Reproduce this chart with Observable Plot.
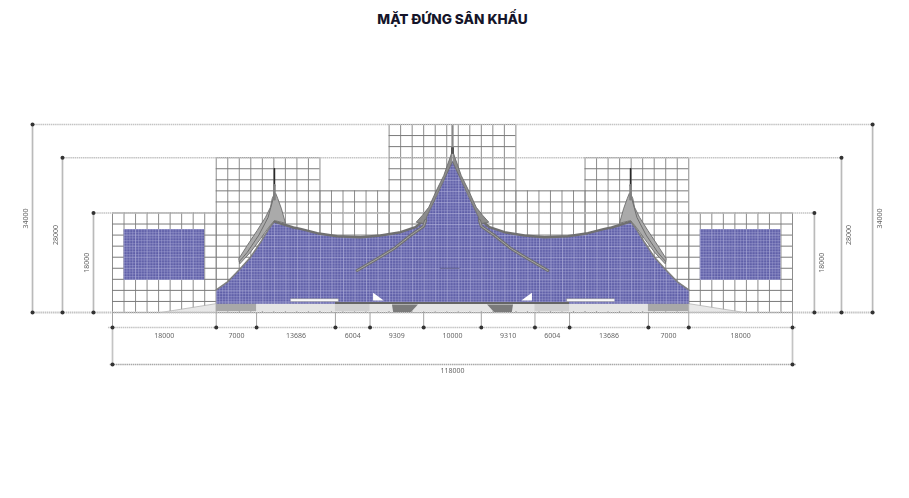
<!DOCTYPE html>
<html><head><meta charset="utf-8">
<script src="https://cdn.jsdelivr.net/npm/d3@7"></script>
<script src="https://cdn.jsdelivr.net/npm/@observablehq/plot@0.6"></script>
<style>
html,body{margin:0;padding:0;background:#fff;overflow:hidden}
#t{width:905px;height:38px;text-align:center;font:800 13.6px/38px Inter,sans-serif;color:#15152a}
#c svg{display:block;filter:blur(0.5px)}
</style></head><body>
<div id="t">MẶT ĐỨNG SÂN KHẤU</div>
<div id="c"></div>
<script>
const totalWidth = 118000;
// stepped envelope of the reference grid: from, to, top
const gridBlocks = [[0,18000,18000],[18000,36000,28000],[36000,48000,22000],[48000,70000,34000],[70000,82000,22000],[82000,100000,28000],[100000,118000,18000]];
const gridStep = 2000;
const segments = [18000,7000,13686,6004,9309,10000,9310,6004,13686,7000,18000];
const segmentLabels = ["18000","7000","13686","6004","9309","10000","9310","6004","13686","7000","18000"];
const overallLabel = "118000";
const heights = [34000,28000,18000];
const heightLabels = ["34000","28000","18000"];
const dimLeftX = [-13880,-8680,-3300];
const dimRightX = [131900,126500,121800];
const chainY = -2700, overallY = -9400;
const screens = [[2000,16000,5800,15000],[102000,116000,5800,15000]];
// left half of the main roof silhouette
const roofLeftX = [18000,18000,19900,22200,23950,25690,27120,28100,31400,32620,35520,38990,43030,46500,49970,52570,54300,54880,56340,57480,58350,59000];
const roofLeftY = [1600,4100,5480,7950,10000,12700,15130,16450,15370,15130,14340,13800,13610,13920,14520,15420,16940,18130,21150,23870,26270,27480];
// gable fin on the side roofs
const finX = [28100,27710,27410,26550,25100,23370,21910,22090,23940,25680,27120,28100,30015,29320,28680,28330];
const finY = [21515,20610,19040,17230,14830,12110,9710,8800,10900,13320,15420,16630,16150,18750,20610,21515];
const finRibX = [28000,27000,25400,23400,22000];
const finRibY = [21000,17200,14000,10900,9200];
const sideSpire = [[28100,22900],[28100,26000]];
const sideSpireFoot = [[28100,20500],[28100,23000]];
// central roof fascia + lower sweep
const fasciaX = [59000,57480,56340,54880,53740,52700,54300,54480,56040,57480,58950];
const fasciaY = [29290,24770,22360,19040,17540,16330,16040,17230,20610,23870,27180];
const sweepX = [54300,54000,51700,48800,45930,42460];
const sweepY = [16600,15600,13920,11520,9710,7590];
const stairX = [48500,53000,51800,48700];
const stairY = [1450,1450,100,100];
const wedgeX = [45220,47060,45220];
const wedgeY = [3560,2170,2170];
const slopeX = [8330,18000,18000];
const slopeY = [0,1600,0];
const stripX = [30900,39200,39200,30900];
const stripY = [2000,2000,2500,2500];
const plinths = [[18000,25000,"#a8a8a8"],[38686,44690,"#d0d0d0"],[73310,79314,"#d0d0d0"],[93000,100000,"#a8a8a8"]];

const mirror = xs => xs.map(x => totalWidth - x);
const pts = (xs,ys) => xs.map((x,i) => ({x, y:ys[i]}));
const both = (xs,ys) => [pts(xs,ys), pts(mirror(xs),ys)];

const gridV = [], gridH = [];
for (const [a,b,top] of gridBlocks) {
  for (let x=a; x<=b; x+=gridStep) gridV.push({x, y1:0, y2:top});
  for (let y=0; y<=top; y+=gridStep) gridH.push({x1:a, x2:b, y});
}
const cuts = [0, ...d3.cumsum(segments)].map((v,i,a)=> i===a.length-1 ? totalWidth : v);
const mids = segments.map((s,i)=>({x:(cuts[i]+cuts[i+1])/2, y:chainY-1500, t:segmentLabels[i]}));
const roofPts = [...pts(roofLeftX,roofLeftY), ...pts(mirror(roofLeftX),roofLeftY).reverse()];
const hLabels = heightLabels.flatMap((t,i)=>[{t,x:dimLeftX[i]-1150,y:heights[i]/2},{t,x:dimRightX[i]+1250,y:heights[i]/2}]);
const dimC = "#c4c4c4", dark = "#707070", txt = "#666";
const poly = (d,o) => Plot.line(d,{x:"x",y:"y",...o});

const marks = [
  // grid
  Plot.ruleX(gridV,{x:"x",y1:"y1",y2:"y2",stroke:"#8c8c8c",strokeWidth:1}),
  Plot.ruleY(gridH,{y:"y",x1:"x1",x2:"x2",stroke:"#7a7a7a",strokeWidth:1}),
  // ground slopes and light base band sit over the grid
  ...both(slopeX,slopeY).map(d=>poly(d,{fill:"#e8e8e8",stroke:"#aaa",strokeWidth:.7})),
  Plot.rect([[18000,100000]],{x1:"0",x2:"1",y1:()=>150,y2:()=>1600,fill:"#e4e4e4"}),
  Plot.rect(plinths,{x1:"0",x2:"1",y1:()=>150,y2:()=>1600,fill:"2"}),
  // dimension lines
  Plot.ruleY(heights,{x1:dimLeftX,x2:dimRightX,stroke:dimC,strokeWidth:1.4,strokeDasharray:"1.5 .6"}),
  Plot.ruleY([0],{x1:-13880,x2:131900,stroke:dimC,strokeWidth:1.8,strokeDasharray:"1.5 .6"}),
  Plot.ruleX(dimLeftX,{y1:0,y2:heights,stroke:"#bababa",strokeWidth:1.7}),
  Plot.ruleX(dimRightX,{y1:0,y2:heights,stroke:"#bababa",strokeWidth:1.7}),
  Plot.ruleY([chainY],{x1:-700,x2:118700,stroke:dimC,strokeWidth:1.4,strokeDasharray:"1.5 .6"}),
  Plot.ruleY([overallY],{x1:-400,x2:118700,stroke:"#a8a8a8",strokeWidth:1.4,strokeDasharray:"1.5 .6"}),
  Plot.ruleX(cuts,{y1:0,y2:chainY,stroke:"#a4a4a4",strokeWidth:1}),
  Plot.ruleX([0,totalWidth],{y1:chainY,y2:overallY,stroke:dimC,strokeWidth:1.7}),
  Plot.dot(heights.flatMap((h,i)=>[{x:dimLeftX[i],y:h},{x:dimRightX[i],y:h},{x:dimLeftX[i],y:0},{x:dimRightX[i],y:0}]),{x:"x",y:"y",r:2,fill:"#333"}),
  Plot.dot(cuts,{x:d=>d,y:()=>chainY,r:2,fill:"#333"}),
  Plot.dot([0,totalWidth],{x:d=>d,y:()=>overallY,r:2,fill:"#333"}),
  // blue surfaces
  Plot.rect(screens,{x1:"0",x2:"1",y1:"2",y2:"3",fill:"url(#led)"}),
  poly(roofPts,{fill:"url(#led)"}),
  // roof outlines
  ...both(roofLeftX.slice(1,8),roofLeftY.slice(1,8)).map(d=>poly(d,{stroke:"#7f7f7f",strokeWidth:1.5,strokeLinejoin:"round"})),
  ...both(roofLeftX.slice(7,17),roofLeftY.slice(7,17)).map(d=>poly(d,{stroke:dark,strokeWidth:2.4,strokeLinejoin:"round"})),
  ...both(finX,finY).map(d=>poly(d,{fill:"#aaa",stroke:"#6e6e6e",strokeWidth:.9})),
  ...both(finRibX,finRibY).map(d=>poly(d,{stroke:"#6e6e6e",strokeWidth:1})),
  ...both(fasciaX,fasciaY).map(d=>poly(d,{fill:"#8c8c8c",stroke:"#6c6c6c",strokeWidth:.9})),
  ...both(sweepX,sweepY).map(d=>poly(d,{stroke:"#707070",strokeWidth:3,strokeLinejoin:"round",strokeLinecap:"round"})),
  ...both(sweepX,sweepY).map(d=>poly(d,{stroke:"#a6a6a6",strokeWidth:1})),
  ...[sideSpire, sideSpire.map(([x,y])=>[totalWidth-x,y])].map(d=>Plot.line(d,{stroke:"#2a2a2a",strokeWidth:1.6})),
  ...[sideSpireFoot, sideSpireFoot.map(([x,y])=>[totalWidth-x,y])].map(d=>Plot.line(d,{stroke:"#808080",strokeWidth:2.6})),
  Plot.ruleX([59000],{y1:29000,y2:33800,stroke:"#888",strokeWidth:2.2}),
  Plot.ruleX([59000],{y1:28600,y2:29800,stroke:"#555",strokeWidth:3}),
  Plot.ruleY([8000],{x1:56900,x2:60300,stroke:"#5a5a80",strokeWidth:.8}),
  // floor detail
  Plot.ruleY([1700],{x1:38700,x2:79300,stroke:"#666",strokeWidth:2}),
  ...both(stripX,stripY).map(d=>poly(d,{fill:"#fafafa",stroke:"#888",strokeWidth:.5})),
  ...both(wedgeX,wedgeY).map(d=>poly(d,{fill:"#fff"})),
  ...both(stairX,stairY).map(d=>poly(d,{fill:"#7b7b7b"})),
  // labels
  Plot.text(mids,{x:"x",y:"y",text:"t",fontSize:7,fill:txt}),
  Plot.text([overallLabel],{x:()=>59000,y:()=>overallY-1050,fontSize:7,fill:txt}),
  Plot.text(hLabels,{x:"x",y:"y",text:"t",fontSize:7,fill:txt,rotate:-90}),
];

const chart = Plot.plot({
  width:909,height:460,margin:0,
  style:{background:"#fff"},
  x:{domain:[0,totalWidth],range:[112,792],axis:null},
  y:{domain:[0,34000],range:[274,86],axis:null},
  marks
});
// fine panel texture for the blue surfaces, locked to the scales
const X=chart.scale("x"),Y=chart.scale("y");
const px=X.apply(gridStep)-X.apply(0), py=Y.apply(0)-Y.apply(gridStep);
const defs=d3.select(chart).insert("defs",":first-child");
const pat=defs.append("pattern").attr("id","led").attr("patternUnits","userSpaceOnUse")
  .attr("width",px).attr("height",py).attr("x",X.apply(0)).attr("y",Y.apply(0)-py);
pat.append("rect").attr("width",px).attr("height",py).attr("fill","#5c5ca6");
for(let k=0;k<4;k++){
  const o=k===0?.65:.38;
  pat.append("rect").attr("x",k*px/4).attr("width",1.1).attr("height",py).attr("fill","#b4b4dc").attr("opacity",o);
  pat.append("rect").attr("y",k*py/4).attr("height",1.1).attr("width",px).attr("fill","#b4b4dc").attr("opacity",o);
}
document.getElementById("c").append(chart);
</script>
</body></html>
